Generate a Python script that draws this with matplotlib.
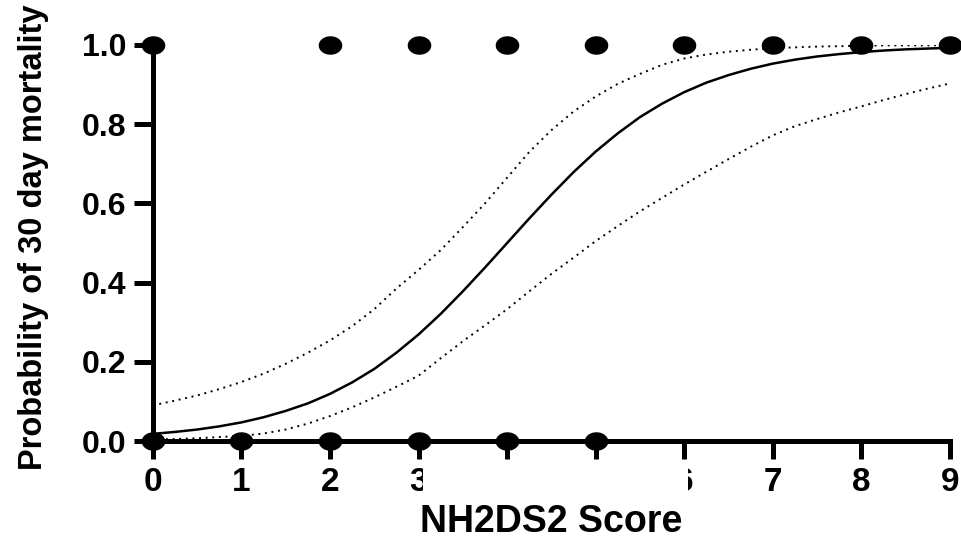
import numpy as np
import matplotlib
matplotlib.use("Agg")
import matplotlib.pyplot as plt
from matplotlib.patches import Rectangle
import matplotlib.transforms as mtransforms

# observed outcomes (score, died=1 / survived=0)
died_scores = [0, 2, 3, 4, 5, 6, 7, 8, 9]
survived_scores = [0, 1, 2, 3, 4, 5]

# fitted probability curve and 95% band
curve_x = [0, 0.25, 0.5, 0.75, 1, 1.25, 1.5, 1.75, 2, 2.25, 2.5, 2.75, 3, 3.25,
           3.5, 3.75, 4, 4.25, 4.5, 4.75, 5, 5.25, 5.5, 5.75, 6, 6.25, 6.5,
           6.75, 7, 7.25, 7.5, 7.75, 8, 8.25, 8.5, 8.75, 9]
prob_fit = [0.018, 0.023, 0.029, 0.037, 0.047, 0.060, 0.076, 0.095, 0.119,
            0.148, 0.182, 0.223, 0.269, 0.321, 0.378, 0.438, 0.500, 0.562,
            0.622, 0.679, 0.731, 0.777, 0.818, 0.852, 0.881, 0.905, 0.924,
            0.940, 0.953, 0.963, 0.971, 0.977, 0.982, 0.986, 0.989, 0.991,
            0.993]
prob_upper = [0.090, 0.102, 0.115, 0.131, 0.149, 0.170, 0.195, 0.223, 0.254,
              0.290, 0.333, 0.385, 0.432, 0.482, 0.540, 0.600, 0.665, 0.730,
              0.785, 0.832, 0.870, 0.902, 0.927, 0.950, 0.966, 0.976, 0.983,
              0.988, 0.992, 0.994, 0.996, 0.997, 0.998, 0.999, 0.999, 0.999,
              1.000]
prob_lower = [0.004, 0.005, 0.007, 0.010, 0.013, 0.019, 0.029, 0.044, 0.063,
              0.085, 0.110, 0.137, 0.165, 0.209, 0.252, 0.292, 0.333, 0.378,
              0.422, 0.463, 0.505, 0.543, 0.580, 0.614, 0.648, 0.680, 0.712,
              0.743, 0.772, 0.795, 0.813, 0.830, 0.845, 0.861, 0.876, 0.890,
              0.903]

x_ticks = [0, 1, 2, 3, 4, 5, 6, 7, 8, 9]
x_ticklabels = ["0", "1", "2", "3", "", "", "6", "7", "8", "9"]
y_ticks = [0.0, 0.2, 0.4, 0.6, 0.8, 1.0]

plt.rcParams['font.family'] = ['Liberation Sans', 'DejaVu Sans']
plt.rcParams['font.weight'] = 'bold'

fig = plt.figure(figsize=(9.61, 5.44), dpi=100)
ax = fig.add_axes([0.159, 0.1893, 0.8296, 0.728])

# oval marker, wider than tall
t = np.linspace(0, 2 * np.pi, 40)
oval = list(zip(np.cos(t), 0.77 * np.sin(t)))

ax.plot(curve_x, prob_fit, color='black', lw=1.8, zorder=3)
ax.plot(curve_x, prob_upper, color='black', lw=1.4, ls=(0, (1, 2.4)), zorder=3)
ax.plot(curve_x, prob_lower, color='black', lw=1.4, ls=(0, (1, 2.4)), zorder=3)

ax.plot(died_scores, [1] * len(died_scores), ls='none', marker=oval,
        ms=16, color='black', clip_on=False, zorder=5)
ax.plot(survived_scores, [0] * len(survived_scores), ls='none', marker=oval,
        ms=16, color='black', clip_on=False, zorder=5)

ax.set_xlim(0, 9)
ax.set_ylim(0, 1)
ax.set_xticks(x_ticks)
ax.set_xticklabels(x_ticklabels)
ax.set_yticks(y_ticks)
ax.set_yticklabels([f"{v:.1f}" for v in y_ticks])

for s in ['top', 'right']:
    ax.spines[s].set_visible(False)
for s in ['left', 'bottom']:
    ax.spines[s].set_linewidth(3.6)

ax.tick_params(axis='x', length=13, width=3.6, pad=6, labelsize=24)
ax.tick_params(axis='y', length=14, width=3.6, pad=5, labelsize=23)

# part of the 3 and 6 labels is hidden in the source image
trans = mtransforms.blended_transform_factory(ax.transData, ax.transAxes)
ax.add_patch(Rectangle((3.05, -0.145), 2.99, 0.08, transform=trans,
                       facecolor='white', edgecolor='none', clip_on=False,
                       zorder=10))

ax.set_xlabel("NH2DS2 Score", fontsize=27, fontweight='bold', labelpad=4)
ax.set_ylabel("Probability of 30 day mortality", fontsize=23.5,
              fontweight='bold')
ax.yaxis.set_label_coords(-0.13, 0.515)

fig.savefig("out.png", dpi=100)
